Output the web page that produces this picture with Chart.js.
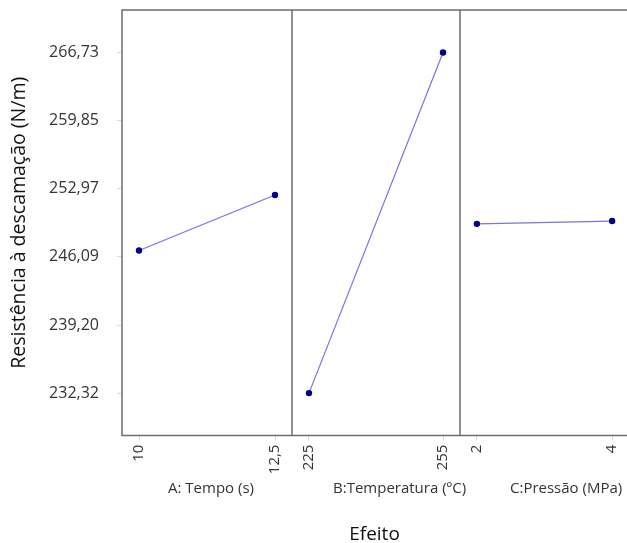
<!DOCTYPE html>
<html>
<head>
<meta charset="utf-8">
<script src="https://cdn.jsdelivr.net/npm/chart.js@4"></script>
<style>
  html, body { margin: 0; padding: 0; background: #fff; }
  #wrap { width: 627px; height: 543px; }
</style>
</head>
<body>
<div id="wrap"><canvas id="grafico"></canvas></div>
<script>
// efeitos principais - resistência à descamação
var tempoNiveis = [10, 12.5],
    tempoMedias = [246.72, 252.33];
var tempNiveis = [225, 255],
    tempMedias = [232.32, 266.73];
var pressaoNiveis = [2, 4],
    pressaoMedias = [249.42, 249.70];
var yTicks = [232.32, 239.20, 246.09, 252.97, 259.85, 266.73];
var paineis = ['A: Tempo (s)', 'B:Temperatura (ºC)', 'C:Pressão (MPa)'];

var corLinha = '#7676dc',
    corPonto = '#00008b',
    corBorda = '#6e6e6e',
    corTick = 'rgba(235,190,200,0.7)';

function virgula(v, casas) {
    return v.toFixed(casas).replace('.', ',');
}

function pontos(xs, ys) {
    return xs.map(function (x, i) { return {x: x, y: ys[i]}; });
}

function serie(xs, ys, eixo) {
    return {
        data: pontos(xs, ys),
        xAxisID: eixo,
        yAxisID: 'y',
        borderColor: corLinha,
        borderWidth: 1.2,
        pointRadius: 3.2,
        pointBackgroundColor: corPonto,
        pointBorderColor: corPonto,
        pointBorderWidth: 0,
        tension: 0
    };
}

// sem margens extras calculadas pelo Chart.js
function semPadding(scale) {
    scale.paddingTop = 0;
    scale.paddingBottom = 0;
    scale.paddingLeft = 0;
    scale.paddingRight = 0;
}

function eixoX(niveis, min, max, peso) {
    return {
        type: 'linear',
        position: 'bottom',
        stack: 'efeito',
        stackWeight: peso,
        min: min,
        max: max,
        afterBuildTicks: function (axis) {
            axis.ticks = niveis.map(function (v) { return {value: v}; });
        },
        afterFit: semPadding,
        grid: {drawOnChartArea: false, color: corTick, tickLength: 5},
        border: {display: false},
        ticks: {
            minRotation: 90,
            maxRotation: 90,
            padding: 4,
            color: '#333',
            font: {family: 'Open Sans', size: 15},
            callback: function (v) { return String(v).replace('.', ','); }
        }
    };
}

// bordas dos painéis e rótulos dos fatores
var molduraPlugin = {
    id: 'moldura',
    afterDraw: function (chart) {
        var ctx = chart.ctx,
            a = chart.chartArea,
            ids = ['xA', 'xB', 'xC'];
        ctx.save();
        ctx.strokeStyle = corBorda;
        ctx.lineWidth = 1.5;
        ctx.beginPath();
        ctx.moveTo(chart.width, a.top);
        ctx.lineTo(a.left, a.top);
        ctx.lineTo(a.left, a.bottom);
        ctx.lineTo(chart.width, a.bottom);
        ids.slice(1).forEach(function (id) {
            var s = chart.scales[id];
            ctx.moveTo(s.left, a.top);
            ctx.lineTo(s.left, a.bottom);
        });
        ctx.stroke();

        ctx.fillStyle = '#333';
        ctx.font = '15px "Open Sans"';
        ctx.textAlign = 'left';
        ctx.textBaseline = 'middle';
        ids.forEach(function (id, i) {
            var s = chart.scales[id];
            ctx.fillText(paineis[i], s.left + [46, 41, 50][i], 489);
        });
        ctx.restore();
    }
};

new Chart(document.getElementById('grafico'), {
    type: 'line',
    data: {
        datasets: [
            serie(tempoNiveis, tempoMedias, 'xA'),
            serie(tempNiveis, tempMedias, 'xB'),
            serie(pressaoNiveis, pressaoMedias, 'xC')
        ]
    },
    options: {
        responsive: true,
        maintainAspectRatio: false,
        animation: false,
        layout: {autoPadding: false, padding: {top: 10, right: 0, left: 0, bottom: -3}},
        plugins: {
            legend: {display: false},
            tooltip: {enabled: false},
            title: {
                display: true,
                position: 'bottom',
                fullSize: false,
                text: 'Efeito',
                color: '#111',
                font: {family: 'Open Sans', size: 19, weight: 'normal'},
                padding: {top: 45, bottom: 0}
            }
        },
        scales: {
            xA: eixoX(tempoNiveis, 9.6875, 12.8125, 170),
            xB: eixoX(tempNiveis, 221.2, 258.8, 168),
            xC: eixoX(pressaoNiveis, 1.75, 4.22, 167),
            y: {
                min: 228.03,
                max: 271.02,
                afterBuildTicks: function (axis) {
                    axis.ticks = yTicks.map(function (v) { return {value: v}; });
                },
                afterFit: function (scale) {
                    semPadding(scale);
                    scale.width = 122;
                },
                grid: {drawOnChartArea: false, color: corTick, tickLength: 5},
                border: {display: false},
                ticks: {
                    padding: 18,
                    color: '#333',
                    font: {family: 'Open Sans', size: 16},
                    callback: function (v) { return virgula(v, 2); }
                },
                title: {
                    display: true,
                    text: 'Resistência à descamação (N/m)',
                    color: '#111',
                    font: {family: 'Open Sans', size: 19.5},
                    padding: {top: 8, bottom: 0}
                }
            }
        }
    },
    plugins: [molduraPlugin]
});
</script>
</body>
</html>
